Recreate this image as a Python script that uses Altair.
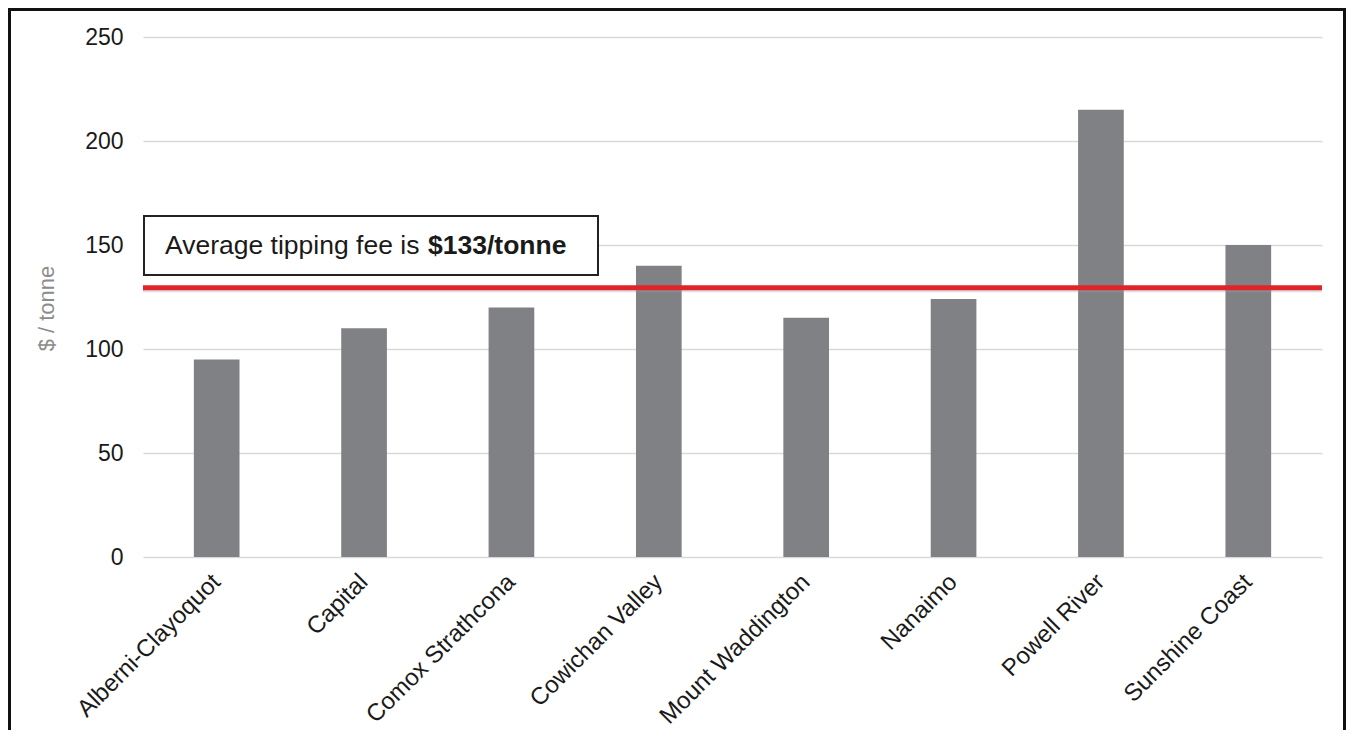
import altair as alt
import pandas as pd

regions = ["Alberni-Clayoquot", "Capital", "Comox Strathcona", "Cowichan Valley",
           "Mount Waddington", "Nanaimo", "Powell River", "Sunshine Coast"]
fees = [95, 110, 120, 140, 115, 124, 215, 150]
average_line = 129.5
note_plain = "Average tipping fee is "
note_bold = "$133/tonne"
y_ticks = [0, 50, 100, 150, 200, 250]

df = pd.DataFrame({"region": regions, "fee": fees})
one = pd.DataFrame({"k": [0]})

FONT = "Liberation Sans"
W, H = 1179, 520

x_enc = alt.X("region:N", sort=regions, title=None,
              scale=alt.Scale(paddingInner=0.69, paddingOuter=0.345),
              axis=alt.Axis(labelAngle=-45, labelAlign="right", labelBaseline="middle",
                            labelPadding=21, labelFontSize=24, labelColor="#1a1a1a",
                            labelFont=FONT, labelLimit=0, ticks=False, domain=False, grid=False))
y_scale = alt.Scale(domain=[0, 250], nice=False)
y_enc = alt.Y("fee:Q", scale=y_scale, title="$ / tonne",
              axis=alt.Axis(values=y_ticks, grid=True, gridColor="#d9d9d9", gridWidth=1.5,
                            ticks=False, domain=False, labelFontSize=23, labelColor="#1a1a1a",
                            labelFont=FONT, labelPadding=20, titleFont=FONT, titleFontSize=22,
                            titleFontWeight="normal", titleColor="#8c8c8c", titleAngle=-90,
                            titleX=-97, titleY=271, titleAlign="center", titleBaseline="middle"))

bars = alt.Chart(df).mark_bar(color="#808184").encode(x=x_enc, y=y_enc)

shadow = alt.Chart(one).mark_rule(color="#9aa0aa", strokeWidth=4, opacity=0.35).encode(
    y=alt.datum(average_line - 1.3, scale=y_scale))
redline = alt.Chart(one).mark_rule(color="#e3232a", strokeWidth=5).encode(
    y=alt.datum(average_line, scale=y_scale))

box = alt.Chart(one).mark_rect(fill="white", stroke="#222222", strokeWidth=2).encode(
    x=alt.value(1), x2=alt.value(455),
    y=alt.datum(164, scale=y_scale), y2=alt.datum(135.6))
t1 = alt.Chart(one).mark_text(text=note_plain, font=FONT, fontSize=26.5, color="#1a1a1a",
                              align="left", baseline="middle").encode(
    x=alt.value(22), y=alt.datum(149.5, scale=y_scale))
t2 = alt.Chart(one).mark_text(text=note_bold, font=FONT, fontSize=26.5, fontWeight="bold",
                              color="#1a1a1a", align="left", baseline="middle").encode(
    x=alt.value(285), y=alt.datum(149.5, scale=y_scale))

border = alt.Chart(one).mark_rect(fill=None, stroke="#111111", strokeWidth=3, clip=False).encode(
    x=alt.value(-133.5), x2=alt.value(1201.5), y=alt.value(-27.5), y2=alt.value(720))

chart = alt.layer(bars, shadow, redline, box, t1, t2, border).properties(
    width=W, height=H,
    background="white",
    autosize=alt.AutoSizeParams(type="none"),
    padding={"left": 135, "top": 29, "right": 24, "bottom": 173},
).configure_view(stroke=None)

chart.save("out.html", embed_options={"renderer": "svg", "actions": False})
